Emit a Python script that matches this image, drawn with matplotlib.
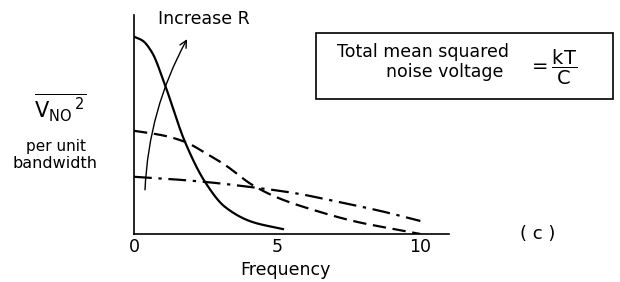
import numpy as np
import matplotlib.pyplot as plt
from matplotlib.patches import FancyArrowPatch, Rectangle

# values (y in units of the low-R peak)
freq_solid = [0.0, 0.3, 0.63, 1.08, 1.78, 2.48, 3.18, 4.13, 5.2]
noise_solid = [1.0, 0.98, 0.92, 0.756, 0.467, 0.264, 0.137, 0.061, 0.025]

freq_dash = [0.0, 1.0, 1.78, 2.5, 3.18, 4.13, 5.0, 6.26, 7.8, 9.65, 10.0]
noise_dash = [0.523, 0.50, 0.467, 0.41, 0.35, 0.249, 0.185, 0.122, 0.061, 0.01, 0.0]

freq_dashdot = [0.0, 1.2, 2.48, 4.13, 5.7, 6.96, 8.6, 10.0]
noise_dashdot = [0.29, 0.279, 0.264, 0.237, 0.205, 0.168, 0.117, 0.066]

xticks = [0, 5, 10]

plt.rcParams['font.family'] = ['DejaVu Sans']


# monotone cubic (Fritsch-Carlson) through the read points
def pchip(xs, ys, n=300):
    x = np.asarray(xs, float)
    y = np.asarray(ys, float)
    h = np.diff(x)
    d = np.diff(y) / h
    m = np.zeros_like(y)
    m[0], m[-1] = d[0], d[-1]
    for i in range(1, len(x) - 1):
        if d[i-1] * d[i] > 0:
            w1 = 2*h[i] + h[i-1]
            w2 = h[i] + 2*h[i-1]
            m[i] = (w1 + w2) / (w1/d[i-1] + w2/d[i])
    t = np.linspace(x[0], x[-1], n)
    k = np.clip(np.searchsorted(x, t) - 1, 0, len(x) - 2)
    s = (t - x[k]) / h[k]
    h00 = 2*s**3 - 3*s**2 + 1
    h10 = s**3 - 2*s**2 + s
    h01 = -2*s**3 + 3*s**2
    h11 = s**3 - s**2
    yt = h00*y[k] + h10*h[k]*m[k] + h01*y[k+1] + h11*h[k]*m[k+1]
    return t, yt


fig = plt.figure(figsize=(6.2, 2.82), dpi=100)
ax = fig.add_axes([134/620, 48/282, 315/620, 219/282])

t, y = pchip(freq_solid, noise_solid)
ax.plot(t, y, color='black', lw=1.6)
t, y = pchip(freq_dash, noise_dash)
ax.plot(t, y, color='black', lw=1.6, dashes=(6, 3))
t, y = pchip(freq_dashdot, noise_dashdot)
ax.plot(t, y, color='black', lw=1.6, dashes=(8, 3, 1.5, 3))

ax.set_xlim(0, 11)
ax.set_ylim(0, 1.11)
ax.spines['top'].set_visible(False)
ax.spines['right'].set_visible(False)
ax.spines['left'].set_linewidth(1.2)
ax.spines['bottom'].set_linewidth(1.2)
ax.set_xticks(xticks)
ax.set_xticklabels([str(v) for v in xticks], fontsize=12.5)
ax.set_yticks([])
ax.tick_params(axis='x', length=0, pad=3)

# curved arrow "Increase R"
arr = FancyArrowPatch((0.38, 0.21), (1.9, 1.0), connectionstyle='arc3,rad=-0.12',
                      arrowstyle='->,head_length=5,head_width=2.5', color='black', lw=1.0)
ax.add_patch(arr)

fig.text(158/620, 1 - 19/282, 'Increase R', fontsize=12.5, ha='left', va='center')
fig.text(285/620, 1 - 270/282, 'Frequency', fontsize=12.5, ha='center', va='center')
fig.text(538/620, 1 - 234/282, '( c )', fontsize=13, ha='center', va='center')

# y label
fig.text(60/620, 1 - 108/282, r'$\overline{\mathsf{V_{NO}}^{\,2}}$', fontsize=15,
         ha='center', va='center')
fig.text(56/620, 1 - 146/282, 'per unit', fontsize=11, ha='center', va='center')
fig.text(55/620, 1 - 164/282, 'bandwidth', fontsize=11.5, ha='center', va='center')

# boxed note
fig.patches.append(Rectangle((316/620, 1 - 99/282), 297/620, 66/282,
                             transform=fig.transFigure, fill=False, lw=1.2, ec='black'))
fig.text(423/620, 1 - 52/282, 'Total mean squared', fontsize=12.5, ha='center', va='center')
fig.text(445/620, 1 - 72/282, 'noise voltage', fontsize=12.5, ha='center', va='center')
fig.text(528/620, 1 - 67/282, r'$=\dfrac{\mathsf{kT}}{\mathsf{C}}$', fontsize=14,
         ha='left', va='center')

fig.savefig('out.png', dpi=100)
